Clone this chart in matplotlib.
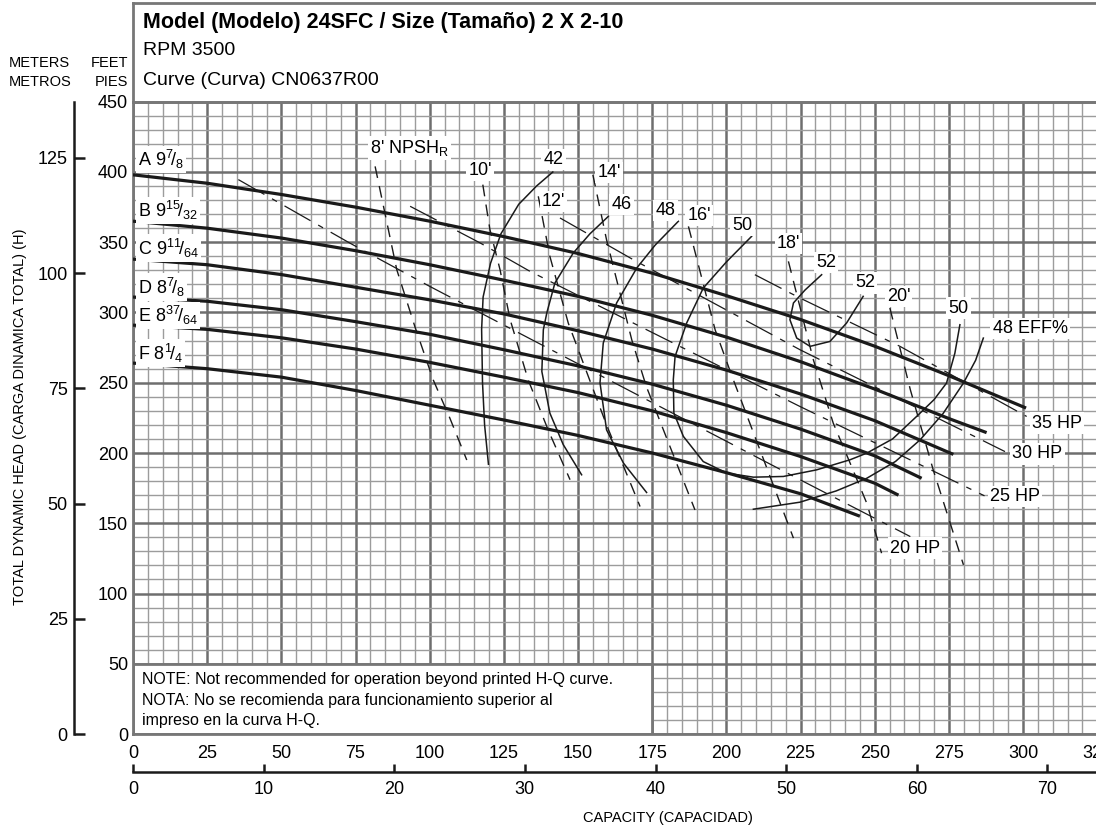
# pump curve 24SFC 2x2-10, 3500 rpm
import numpy as np
import matplotlib.pyplot as plt
from matplotlib.patches import Rectangle

plt.rcParams['font.family'] = ['Liberation Sans', 'DejaVu Sans']
plt.rcParams['mathtext.fontset'] = 'custom'
plt.rcParams['mathtext.rm'] = 'Liberation Sans'
plt.rcParams['mathtext.it'] = 'Liberation Sans:italic'
plt.rcParams['mathtext.bf'] = 'Liberation Sans:bold'

# ---- data (gpm, ft) ----
imp_names = [r'A 9$^{7}\!/_{8}$', r'B 9$^{15}\!/_{32}$', r'C 9$^{11}\!/_{64}$',
             r'D 8$^{7}\!/_{8}$', r'E 8$^{37}\!/_{64}$', r'F 8$^{1}\!/_{4}$']
imp_q = [
    [0, 25, 50, 75, 100, 125, 150, 175, 200, 225, 250, 275, 301],
    [0, 25, 50, 75, 100, 125, 150, 175, 200, 225, 250, 275, 287.7],
    [0, 25, 50, 75, 100, 125, 150, 175, 200, 225, 250, 276.5],
    [0, 25, 50, 75, 100, 125, 150, 175, 200, 225, 250, 265.8],
    [0, 25, 50, 75, 100, 125, 150, 175, 200, 225, 250, 258],
    [0, 25, 50, 75, 100, 125, 150, 175, 200, 225, 245],
]
imp_h = [
    [398, 392, 384, 375, 365, 354, 342, 328, 312, 295, 276, 255, 232],
    [365, 360, 353, 344, 334, 323, 311.5, 298, 282.5, 265, 245.5, 224.5, 214.5],
    [338, 334, 327, 318, 309, 299, 287, 274, 259, 242, 223, 199],
    [311, 308, 302, 293.5, 284.5, 273.5, 262, 249, 234, 217, 198, 182],
    [291, 288, 282, 274, 264.5, 254, 243, 230, 214.5, 197.5, 178.5, 170],
    [264, 260, 254, 244.5, 234, 223.5, 212.5, 200, 186, 171, 155],
]

# efficiency contours
eff_q = [
    [141.5, 136, 130, 124, 120.5, 118, 117.5, 117.8, 118.5, 119.8],            # 42
    [160.2, 154, 148.4, 142.2, 139.5, 138.3, 137.8, 140.5, 145, 151.2],        # 46
    [183.8, 176, 169.8, 163, 158.5, 157.4, 159.6, 165.3, 173.1],               # 48 left
    [208.5, 200, 192.2, 186.6, 182.7, 182.1, 182.3, 185.5, 192.2, 200.1, 209.1,
     219.2, 230.4, 241.7, 247.3, 256, 264.1, 270, 274.2, 277, 278.7],          # 50
    [232.1, 226.5, 222.6, 221.4, 223.7, 228.2, 234.9, 240.5, 246.1],           # 52
    [209.1, 224.8, 237, 247.3, 257, 265.3, 273, 279.9, 284, 286.6],            # 48 right
]
eff_h = [
    [400, 390, 377, 356, 335, 311, 288, 250, 220, 192],
    [368.4, 356, 342.4, 321, 300, 287.7, 258, 228.4, 206, 184.5],
    [364.9, 348, 331.7, 306.8, 278.3, 250, 216.5, 192.8, 171.9],
    [354.2, 336, 317.4, 292.5, 268.7, 252, 228.4, 211.8, 193.9, 185.7, 182.8,
     183.3, 188, 195.2, 199.9, 210, 226, 238, 249.8, 271, 291.3],
    [326.9, 316, 306.8, 294.9, 281.8, 275.9, 279.4, 292.5, 311.5],
    [160, 165, 173, 182, 194, 209.4, 228, 249.8, 266, 281.8],
]

# NPSHr lines 8' .. 20'
npsh_q = [
    [81.6, 88.9, 95, 101.2, 106.8, 112.5],
    [117.9, 120.3, 123.7, 127.1, 133.2, 140, 147.3],
    [136.6, 140.5, 146.7, 159.6, 170.9],
    [155, 159.6, 168.1, 173, 189.4],
    [187.2, 196.2, 202, 222.6],
    [220.9, 229.3, 236, 241.7, 247.3, 252.3],
    [255.1, 262, 269.7, 279.9],
]
npsh_h = [
    [404, 330.5, 290, 252, 224.8, 195],
    [391, 359, 330.5, 295, 252, 216, 181],
    [382.7, 340, 292.5, 220, 161.9],
    [398, 351.8, 280.6, 247.4, 159.5],
    [361.3, 287.7, 254, 139.4],
    [336.4, 266.4, 221.3, 192.8, 164.3, 128.7],
    [303.2, 245, 188, 120.4],
]

# horsepower lines 20, 25, 30, 35 HP
hp_q = [
    [35.5, 73, 100, 224.8, 262],
    [93.4, 117, 133.8, 224.8, 287],
    [143.9, 168.6, 224.8, 293.9],
    [209.6, 224.8, 258.5, 301.2],
]
hp_h = [
    [394.6, 349.5, 318.6, 181, 140.5],
    [375.6, 349.5, 329.3, 233.1, 169.5],
    [367.3, 337.6, 273.5, 201],
    [326.9, 310.3, 275.9, 226],
]

ft_ticks = np.arange(0, 451, 50)
gpm_ticks = np.arange(0, 326, 25)
m_ticks = [0, 25, 50, 75, 100, 125]
m3h_ticks = [0, 10, 20, 30, 40, 50, 60, 70]

# ---- layout in pixels ----
W, H = 1096, 830
def fx(p): return p / W
def fy(p): return 1 - p / H

x0, y0 = 133, 734        # pixel of (0 gpm, 0 ft)
k_gpm, k_ft = 2.967, 1.405
qmax = 330
aw = qmax * k_gpm / W
ah = 450 * k_ft / H
frame = '#777777'

fig = plt.figure(figsize=(10.96, 8.30), dpi=100)

# title box
axt = fig.add_axes([fx(x0), fy(y0 - 450 * k_ft), aw, (y0 - 450 * k_ft - 2.7) / H])
axt.set_xticks([]); axt.set_yticks([])
for s in axt.spines.values():
    s.set_color(frame); s.set_linewidth(2)
axt.text(0.0102, 0.80, 'Model (Modelo) 24SFC / Size (Tamaño) 2 X 2-10', transform=axt.transAxes,
         fontsize=15.5, fontweight='bold', va='center', ha='left')
axt.text(0.0102, 0.515, 'RPM 3500', transform=axt.transAxes, fontsize=14, va='center', ha='left')
axt.text(0.0102, 0.215, 'Curve (Curva) CN0637R00', transform=axt.transAxes, fontsize=14,
         va='center', ha='left')

# main chart
ax = fig.add_axes([fx(x0), fy(y0), aw, ah])
ax.set_xlim(0, qmax)
ax.set_ylim(0, 450)
ax.set_xticks(gpm_ticks)
ax.set_xticks(np.arange(0, qmax + 1, 5), minor=True)
ax.set_yticks(ft_ticks)
ax.set_yticks(np.arange(0, 451, 10), minor=True)
ax.grid(which='minor', color='#9c9c9c', lw=1.0)
ax.grid(which='major', color='#6e6e6e', lw=1.8)
ax.set_axisbelow(True)
ax.tick_params(which='both', length=0, labelsize=13)
ax.tick_params(axis='x', pad=8)
ax.tick_params(axis='y', pad=3.5)
for s in ax.spines.values():
    s.set_color(frame); s.set_linewidth(2)

# note box
ax.add_patch(Rectangle((0, 0), 175, 50, fc='white', ec=frame, lw=2, zorder=2))
note = ['NOTE: Not recommended for operation beyond printed H-Q curve.',
        'NOTA: No se recomienda para funcionamiento superior al',
        'impreso en la curva H-Q.']
for t, yy in zip(note, [38.5, 23.5, 9.3]):
    ax.text(3.0, yy, t, fontsize=11.5, va='center', ha='left', zorder=3)

# curves
for q, h in zip(imp_q, imp_h):
    ax.plot(q, h, color='#1a1a1a', lw=2.3, zorder=3, solid_capstyle='butt')
for q, h in zip(eff_q, eff_h):
    ax.plot(q, h, color='#1a1a1a', lw=1.1, zorder=3)
for q, h in zip(npsh_q, npsh_h):
    ax.plot(q, h, color='#1a1a1a', lw=1.0, ls=(0, (8.5, 6)), zorder=3)
for q, h in zip(hp_q, hp_h):
    ax.plot(q, h, color='#1a1a1a', lw=0.9, ls=(0, (24, 7, 4.5, 7)), zorder=3)

box = dict(fc='white', ec='none', pad=1.5)
lab = dict(fontsize=13, va='center', zorder=5, bbox=box)
for name, yy in zip(imp_names, [408.8, 372.7, 345.9, 318.1, 298, 271.1]):
    ax.text(1.8, yy, name, ha='left', **lab)
for t, xx, yy in [('42', 141.7, 408.8), ('46', 164.7, 376.8), ('48', 179.5, 372.7),
                  ('50', 205.4, 361.8), ('52', 233.6, 335.7), ('52', 246.7, 321),
                  ('50', 278.2, 303.2),
                  ("10'", 117, 401), ("12'", 141.7, 379.2), ("14'", 160.5, 399.8),
                  ("16'", 190.9, 369.2), ("18'", 220.9, 349), ("20'", 258, 311.5)]:
    ax.text(xx, yy, t, ha='center', **lab)
for t, xx, yy in [("8' NPSH$_{\\mathrm{R}}$", 79.9, 417.2), ('48 EFF%', 289.7, 288.5),
                  ('35 HP', 302.9, 221.3), ('30 HP', 296.4, 199.4),
                  ('25 HP', 288.8, 169), ('20 HP', 255.1, 132.3)]:
    ax.text(xx, yy, t, ha='left', **lab)

# meters axis on the far left
axm = fig.add_axes([fx(74), fy(y0), 1e-4, ah])
axm.set_ylim(0, 450 * 0.3048)
axm.set_yticks(m_ticks)
axm.set_xticks([])
axm.patch.set_visible(False)
for k in ['right', 'top', 'bottom']:
    axm.spines[k].set_visible(False)
axm.spines['left'].set_color('#1a1a1a')
axm.spines['left'].set_linewidth(1.8)
axm.tick_params(axis='y', direction='in', length=8, width=1.8, labelsize=13, pad=4.5, color='#1a1a1a')

# m3/h axis under the gpm labels
axb = fig.add_axes([fx(x0), fy(772), aw, 1e-4])
axb.set_xlim(0, qmax / 4.4029)
axb.set_xticks(m3h_ticks)
axb.set_yticks([])
axb.patch.set_visible(False)
for k in ['left', 'right', 'top']:
    axb.spines[k].set_visible(False)
axb.spines['bottom'].set_color('#1a1a1a')
axb.spines['bottom'].set_linewidth(1.8)
axb.tick_params(axis='x', direction='in', length=5.5, width=1.8, labelsize=13, pad=6.5, color='#1a1a1a')

# axis titles
fig.text(fx(20), fy(417), 'TOTAL DYNAMIC HEAD (CARGA DINAMICA TOTAL) (H)', rotation=90,
         fontsize=10.5, ha='center', va='center')
fig.text(fx(668), fy(818), 'CAPACITY (CAPACIDAD)', fontsize=10.5, ha='center', va='center')
fig.text(fx(9), fy(63), 'METERS', fontsize=10.5, ha='left', va='center')
fig.text(fx(9), fy(82), 'METROS', fontsize=10.5, ha='left', va='center')
fig.text(fx(128), fy(63), 'FEET', fontsize=10.5, ha='right', va='center')
fig.text(fx(128), fy(82), 'PIES', fontsize=10.5, ha='right', va='center')

fig.savefig('out.png', dpi=100)
